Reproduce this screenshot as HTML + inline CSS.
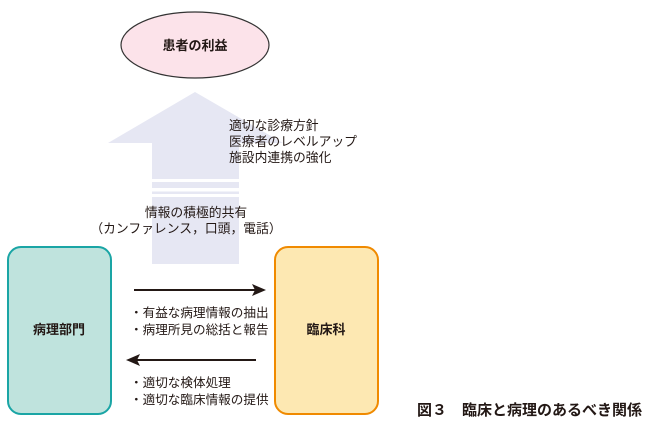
<!DOCTYPE html>
<html><head><meta charset="utf-8"><style>
body{margin:0;background:#fff;}
svg text{font-family:"Liberation Sans","Noto Sans CJK JP",sans-serif;fill:#231815;}
</style></head><body>
<svg width="652" height="423" viewBox="0 0 652 423" xmlns="http://www.w3.org/2000/svg">
<polygon points="195,92 283,143 239,143 239,264 152,264 152,143 108,143" fill="#e6e7f3"/>
<rect x="150" y="179" width="92" height="3" fill="#fff"/>
<rect x="150" y="188" width="92" height="3.5" fill="#fff"/>
<rect x="150" y="194" width="92" height="3" fill="#fff"/>
<ellipse cx="195" cy="45" rx="74" ry="33" fill="#fce3ea" stroke="#333" stroke-width="1.2"/>
<text x="195" y="50" font-size="13" font-weight="bold" text-anchor="middle">患者の利益</text>
<g font-size="12.8">
<text x="229" y="130">適切な診療方針</text>
<text x="229" y="146">医療者のレベルアップ</text>
<text x="229" y="162">施設内連携の強化</text>
<text x="196" y="217" text-anchor="middle">情報の積極的共有</text>
<text x="186" y="233" text-anchor="middle">（カンファレンス，口頭，電話）</text>
</g>
<g font-size="12.6">
<text x="130" y="317">・有益な病理情報の抽出</text>
<text x="130" y="334">・病理所見の総括と報告</text>
<text x="130" y="387">・適切な検体処理</text>
<text x="130" y="404">・適切な臨床情報の提供</text>
</g>
<rect x="8" y="247" width="103" height="167" rx="13" fill="#bfe3dd" stroke="#1aa5a5" stroke-width="2"/>
<rect x="275" y="247" width="103" height="167" rx="13" fill="#fde8b2" stroke="#f08a00" stroke-width="2"/>
<text x="59" y="334" font-size="13" font-weight="bold" text-anchor="middle">病理部門</text>
<text x="326" y="334" font-size="13" font-weight="bold" text-anchor="middle">臨床科</text>
<line x1="134" y1="290" x2="255" y2="290" stroke="#231815" stroke-width="2"/>
<polygon points="266,290 252,284 255,290 252,296" fill="#231815"/>
<line x1="137" y1="360" x2="256" y2="360" stroke="#231815" stroke-width="2"/>
<polygon points="126,360 140,354 137,360 140,366" fill="#231815"/>
<text x="417" y="415" font-size="15" font-weight="bold">図３　臨床と病理のあるべき関係</text>
</svg>
</body></html>
